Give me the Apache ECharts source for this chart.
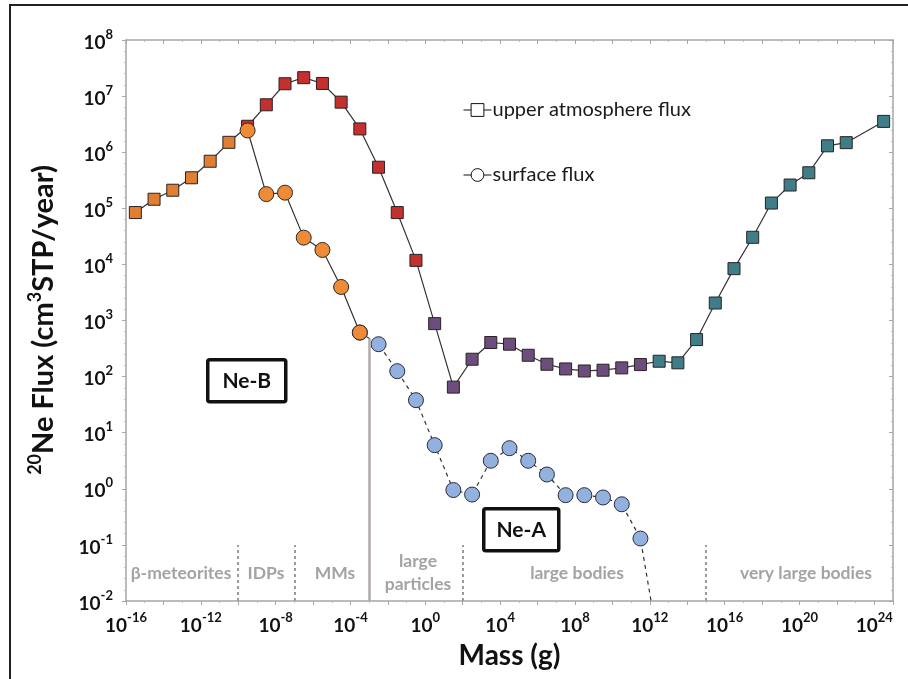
<!DOCTYPE html>
<html>
<head>
<meta charset="utf-8">
<script src="https://cdn.jsdelivr.net/npm/echarts@6/dist/echarts.min.js"></script>
<style>
  html, body { margin: 0; padding: 0; background: #fff; }
  #chart { width: 908px; height: 679px; }
</style>
</head>
<body>
<div id="chart"></div>
<script>
// log10 of particle mass (g) at the centre of each one-decade bin
const upperMassExp = [-15.5, -14.5, -13.5, -12.5, -11.5, -10.5, -9.5, -8.5, -7.5, -6.5,
  -5.5, -4.5, -3.5, -2.5, -1.5, -0.5, 0.5, 1.5, 2.5, 3.5, 4.5, 5.5, 6.5, 7.5, 8.5, 9.5,
  10.5, 11.5, 12.5, 13.5, 14.5, 15.5, 16.5, 17.5, 18.5, 19.5, 20.5, 21.5, 22.5, 24.5];
// 20Ne flux delivered to the upper atmosphere (cm3 STP / year)
const upperFlux = [8.4e4, 1.45e5, 2.1e5, 3.5e5, 6.9e5, 1.5e6, 2.9e6, 7.0e6, 1.66e7, 2.13e7,
  1.68e7, 7.8e6, 2.6e6, 5.4e5, 8.4e4, 1.18e4, 880, 65, 204, 405, 378, 240, 166, 137, 126, 130,
  143, 164, 188, 176, 457, 2050, 8400, 3.04e4, 1.24e5, 2.6e5, 4.3e5, 1.30e6, 1.48e6, 3.54e6];

// 20Ne flux surviving to the surface
const surfaceMassExp = [-9.5, -8.5, -7.5, -6.5, -5.5, -4.5, -3.5, -2.5, -1.5, -0.5, 0.5, 1.5,
  2.5, 3.5, 4.5, 5.5, 6.5, 7.5, 8.5, 9.5, 10.5, 11.5, 12.5];
const surfaceFlux = [2.44e6, 1.79e5, 1.9e5, 3.0e4, 1.81e4, 3960, 610, 378, 125, 38, 6.0, 0.95,
  0.79, 3.16, 5.3, 3.16, 1.8, 0.77, 0.77, 0.70, 0.53, 0.13, 0.0014];

// size classes (log10 g boundaries) and their names
const classBounds = [-10, -7, -3, 2, 15];
const classNames = ['β-meteorites', 'IDPs', 'MMs', 'large\nparticles', 'large bodies', 'very large bodies'];

// axis extents (log10)
const massExpTicks = { min: -16, max: 25, step: 2, labelStep: 4 };
const fluxExpTicks = { min: -2, max: 8, step: 1 };

const FONT = 'Lato, "Open Sans", sans-serif';
const sup = e => (e < 0 ? '-' + (-e) : String(e));
const powLabel = e => '{b|10}{s|' + sup(e) + '}';

const tickRich = {
  b: { fontFamily: FONT, fontSize: 19, fontWeight: 'bold', color: '#111', lineHeight: 24, verticalAlign: 'bottom' },
  s: { fontFamily: FONT, fontSize: 13, fontWeight: 'bold', color: '#111', lineHeight: 15, verticalAlign: 'top' }
};

const toPts = (xs, ys) => xs.map((x, i) => [x, Math.log10(ys[i])]);
const upperPts = toPts(upperMassExp, upperFlux);
const surfacePts = toPts(surfaceMassExp, surfaceFlux);
// Ne-B (orange) below the micrometeorite limit, Ne-A (blue) above it
const neLimit = classBounds[2];
const surfSolid = surfacePts.filter(p => p[0] <= neLimit - 0.5);
const surfDashed = surfacePts.filter(p => p[0] >= neLimit - 0.5);

// surface curve height at the Ne-B / Ne-A limit
const iL = surfacePts.findIndex(p => p[0] > neLimit);
const pa = surfacePts[iL - 1], pb = surfacePts[iL];
const limitY = pa[1] + (pb[1] - pa[1]) * (neLimit - pa[0]) / (pb[0] - pa[0]);

function squareColor(x) {
  if (x < -10) return '#E07E33';
  if (x < 0) return '#C4302E';
  if (x < 12) return '#6C4D7D';
  return '#3F7D89';
}
function circleColor(x) {
  return x < neLimit ? '#EF8A36' : '#93B1DE';
}

const gray = '#a6a6a6';
const axisCommon = {
  type: 'value',
  splitLine: { show: false },
  axisLine: { show: true, onZero: false, lineStyle: { color: gray, width: 1.5 } },
  axisTick: { show: true, length: 4, lineStyle: { color: gray } },
  minorTick: { show: true, length: 2, lineStyle: { color: '#bbb' } }
};

const chart = echarts.init(document.getElementById('chart'), null, { renderer: 'canvas' });

const boundaryLines = classBounds.filter(b => b !== neLimit).map(b => [
  { coord: [b, fluxExpTicks.min], lineStyle: { color: '#9a9a9a', width: 2, type: [3, 3] } },
  { coord: [b, fluxExpTicks.min + 1] }
]);
const limitLine = [
  { coord: [neLimit, fluxExpTicks.min], lineStyle: { color: '#b0aaa6', width: 2.5, type: 'solid' } },
  { coord: [neLimit, limitY] }
];

chart.setOption({
  animation: false,
  backgroundColor: '#fff',
  grid: { left: 126, top: 40, width: 767, height: 561 },
  legend: {
    orient: 'vertical',
    left: 458,
    top: 95,
    itemGap: 45,
    itemWidth: 28,
    itemHeight: 16,
    textStyle: { fontFamily: FONT, fontSize: 20, color: '#1a1a1a', padding: [0, 0, 0, -4] },
    selectedMode: false,
    data: [
      { name: 'upper atmosphere flux',
        itemStyle: { color: '#fff', borderColor: '#111', borderWidth: 1 },
        lineStyle: { color: '#111', width: 1, type: 'solid' } },
      { name: 'surface flux',
        itemStyle: { color: '#fff', borderColor: '#111', borderWidth: 1 },
        lineStyle: { color: '#111', width: 1, type: 'solid' } }
    ]
  },
  xAxis: [
    Object.assign({}, axisCommon, {
      position: 'bottom',
      min: massExpTicks.min, max: massExpTicks.max, interval: massExpTicks.step,
      minorTick: { show: true, length: 2, splitNumber: 2, lineStyle: { color: '#bbb' } },
      axisLabel: {
        margin: 10,
        formatter: v => (v % massExpTicks.labelStep === 0 ? powLabel(v) : ''),
        rich: tickRich
      },
      name: 'Mass (g)',
      nameLocation: 'middle',
      nameGap: 41,
      nameTextStyle: { fontFamily: FONT, fontSize: 28, fontWeight: 'bold', color: '#111', verticalAlign: 'top' }
    }),
    Object.assign({}, axisCommon, {
      position: 'top',
      min: massExpTicks.min, max: massExpTicks.max, interval: massExpTicks.step,
      axisTick: { show: true, inside: true, length: 4, lineStyle: { color: gray } },
      minorTick: { show: true, length: 2, splitNumber: 2, lineStyle: { color: '#bbb' } },
      axisLabel: { show: false }
    })
  ],
  yAxis: [
    Object.assign({}, axisCommon, {
      position: 'left',
      min: fluxExpTicks.min, max: fluxExpTicks.max, interval: fluxExpTicks.step,
      minorTick: { show: true, length: 2, splitNumber: 5, lineStyle: { color: '#bbb' } },
      axisLabel: { margin: 13, formatter: v => powLabel(v), rich: tickRich }
    }),
    Object.assign({}, axisCommon, {
      position: 'right',
      min: fluxExpTicks.min, max: fluxExpTicks.max, interval: fluxExpTicks.step,
      axisTick: { show: true, inside: true, length: 4, lineStyle: { color: gray } },
      minorTick: { show: true, length: 2, splitNumber: 5, lineStyle: { color: '#bbb' } },
      axisLabel: { show: false }
    })
  ],
  series: [
    {
      // size-class boundaries
      type: 'line',
      data: [],
      silent: true,
      markLine: {
        silent: true,
        symbol: ['none', 'none'],
        label: { show: false },
        animation: false,
        data: boundaryLines.concat([limitLine])
      },
      z: 1
    },
    {
      name: 'upper atmosphere flux',
      type: 'line',
      data: upperPts,
      symbol: 'rect',
      symbolSize: 12,
      lineStyle: { color: '#333', width: 1.2 },
      itemStyle: { color: p => squareColor(p.data[0]), borderColor: '#2a2222', borderWidth: 1 },
      z: 3
    },
    {
      name: 'surface flux',
      type: 'line',
      data: surfSolid,
      symbol: 'circle',
      symbolSize: 15,
      lineStyle: { color: '#333', width: 1.2 },
      itemStyle: { color: p => circleColor(p.data[0]), borderColor: '#2a2a2a', borderWidth: 1 },
      z: 4
    },
    {
      name: 'surface flux',
      type: 'line',
      data: surfDashed,
      symbol: 'circle',
      symbolSize: 15,
      lineStyle: { color: '#333', width: 1.2, type: [4, 4] },
      itemStyle: { color: p => circleColor(p.data[0]), borderColor: '#2a2a3a', borderWidth: 1 },
      z: 4
    }
  ],
  graphic: [
    // outer frame
    { type: 'rect', silent: true, shape: { x: 10, y: 5, width: 920, height: 700 },
      style: { fill: 'none', stroke: '#222', lineWidth: 2 }, z: 100 },
    // vertical flux axis title
    { type: 'text', silent: true, x: 42, y: 320, rotation: Math.PI / 2,
      style: {
        text: '{s|20}{b|Ne Flux (cm}{s|3}{b|STP/year)}',
        align: 'center', verticalAlign: 'middle',
        rich: {
          b: { fontFamily: FONT, fontSize: 29, fontWeight: 'bold', fill: '#111', lineHeight: 32, verticalAlign: 'bottom' },
          s: { fontFamily: FONT, fontSize: 18, fontWeight: 'bold', fill: '#111', lineHeight: 20, verticalAlign: 'top' }
        }
      } },
    // Ne component boxes
    { type: 'group', left: 206, top: 358, children: [
      { type: 'rect', shape: { x: 0, y: 0, width: 78, height: 42, r: 2 },
        style: { fill: '#fff', stroke: '#111', lineWidth: 3.5 } },
      { type: 'text', x: 39, y: 21, style: { text: 'Ne-B', fontFamily: FONT, fontSize: 21, fontWeight: 'bold',
        fill: '#111', align: 'center', verticalAlign: 'middle' } }
    ] },
    { type: 'group', left: 482, top: 507, children: [
      { type: 'rect', shape: { x: 0, y: 0, width: 75, height: 42, r: 2 },
        style: { fill: '#fff', stroke: '#111', lineWidth: 3.5 } },
      { type: 'text', x: 37.5, y: 21, style: { text: 'Ne-A', fontFamily: FONT, fontSize: 21, fontWeight: 'bold',
        fill: '#111', align: 'center', verticalAlign: 'middle' } }
    ] }
  ].concat(classNames.map((t, i) => ({
    type: 'text',
    silent: true,
    x: [181, 266, 335, 418, 577, 806][i],
    y: 573,
    style: { text: t, fontFamily: FONT, fontSize: 17.5, fontWeight: 'bold', fill: '#a3a3a3',
      align: 'center', verticalAlign: 'middle', lineHeight: 23 }
  })))
});
</script>
</body>
</html>
